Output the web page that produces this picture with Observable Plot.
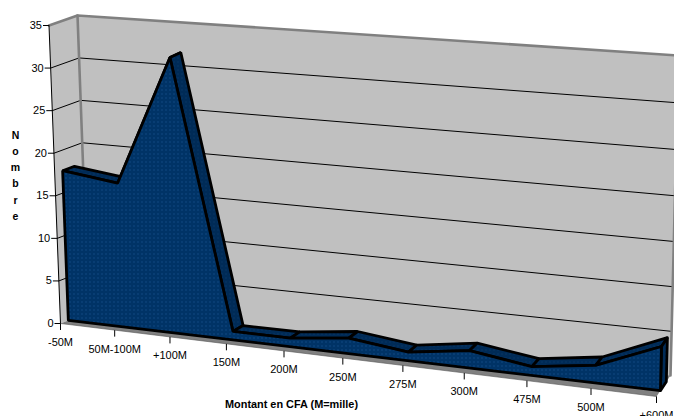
<!DOCTYPE html>
<html><head><meta charset="utf-8">
<style>html,body{margin:0;padding:0;background:#fff;overflow:hidden}</style>
<script src="https://cdn.jsdelivr.net/npm/d3@7"></script>
<script src="https://cdn.jsdelivr.net/npm/@observablehq/plot@0.6"></script>
</head><body><div id="chart"></div>
<script>
const categories = ["-50M","50M-100M","+100M","150M","200M","250M","275M","300M","475M","500M","+600M"];
const counts = [17.6,16.8,32,1,1,1.8,1,2,1,2,5];
const yTicks = [0,5,10,15,20,25,30,35];
const yMax = 35;
const yTitleLetters = ["N","o","m","b","r","e"];
const xTitle = "Montant en CFA (M=mille)";

// 3D box: screen position of the box's corners, used to project (category, value, depth)
const box = {
  f0L:[60,323], f0R:[656,396], fTL:[48.5,25], fTR:[664,76],
  b0L:[88,312], b0R:[670,375], bTL:[77,15], bTR:[678,55]
};
const lerp=(a,b,t)=>[a[0]+(b[0]-a[0])*t,a[1]+(b[1]-a[1])*t];
const persp=-0.1, n=categories.length-1;
function project(i,v,d){
  const t=i/n, u=(1+persp)*t/(1+persp*t);
  let w=v/yMax; w=w-0.04*u*w*(1-w);
  const front=lerp(lerp(box.f0L,box.f0R,u),lerp(box.fTL,box.fTR,u),w);
  const back=lerp(lerp(box.b0L,box.b0R,u),lerp(box.bTL,box.bTR,u),w);
  const p=lerp(front,back,d);
  return {x:p[0],y:p[1]};
}
const dF=0.28,dB=0.70;
const poly=(id,pts)=>pts.map(p=>({...project(...p),id}));

const backWall=poly("b",[[0,0,1],[n,0,1],[n,yMax,1],[0,yMax,1]]);
const leftWall=poly("l",[[0,0,0],[0,0,1],[0,yMax,1],[0,yMax,0]]);
const floor=poly("f",[[0,0,0],[n,0,0],[n,0,1],[0,0,1]]);
const grid=yTicks.filter(v=>v>0&&v<yMax).flatMap(v=>poly("g"+v,[[0,v,0],[0,v,1],[n,v,1]]));
const topEdge=poly("t",[[0,yMax,0],[0,yMax,1],[n,yMax,1]]);
const backLeft=poly("e",[[0,yMax,1],[0,0,1]]);
const backRight=poly("er",[[n,yMax,1],[n,0,1]]);
const axisLeft=poly("a",[[0,yMax,0],[0,0,0]]);
const axisFloor=poly("a",[[0,0,0],[n,0,0]]);

const topFaces=counts.slice(0,-1).flatMap((v,i)=>poly("q"+i,[[i,v,dF],[i+1,counts[i+1],dF],[i+1,counts[i+1],dB],[i,v,dB]]));
const rightFace=poly("r",[[n,0,dF],[n,counts[n],dF],[n,counts[n],dB],[n,0,dB]]);
const frontFace=poly("front",[[0,0,dF],...counts.map((v,i)=>[i,v,dF]),[n,0,dF]]);

const xTickRows=categories.map((c,i)=>{const a=project(i,0,0);return {label:c,x:a.x,y1:a.y,y2:a.y+6.5,ty:a.y+19};});
const yTickRows=yTicks.map(v=>{const a=project(0,v,0);return {label:String(v),x1:a.x-6,x2:a.x,y:a.y};});

const patterns=()=>{
  const defs=d3.create("svg:defs");
  [["dotFront","#003366","#1f5c99"],["dotTop","#002b57","#123f70"]].forEach(([id,bg,dot])=>{
    const p=defs.append("pattern").attr("id",id).attr("patternUnits","userSpaceOnUse").attr("width",4).attr("height",4);
    p.append("rect").attr("width",4).attr("height",4).attr("fill",bg);
    p.append("rect").attr("x",1).attr("y",1).attr("width",1).attr("height",1).attr("fill",dot);
  });
  return defs.node();
};
const L=(data,o)=>Plot.line(data,{x:"x",y:"y",z:"id",...o});
const font="Liberation Sans, Arial, sans-serif";

const chart=Plot.plot({
  width:674,height:416,margin:0,
  style:{background:"#fff",fontFamily:font},
  x:{domain:[0,674],range:[0,674],axis:null},
  y:{domain:[0,416],range:[0,416],axis:null},
  marks:[
    patterns,
    L(backWall,{curve:"linear-closed",fill:"#C0C0C0",stroke:"none"}),
    L(leftWall,{curve:"linear-closed",fill:"#C0C0C0",stroke:"none"}),
    L(floor,{curve:"linear-closed",fill:"#808080",stroke:"none"}),
    L(grid,{stroke:"#000",strokeWidth:1}),
    L(topEdge,{stroke:"#808080",strokeWidth:2.6}),
    L(backLeft,{stroke:"#808080",strokeWidth:2.6}),
    L(backRight,{stroke:"#808080",strokeWidth:2.6}),
    L(axisLeft,{stroke:"#000",strokeWidth:1}),
    L(axisFloor,{stroke:"#555",strokeWidth:0.6}),
    L(topFaces,{curve:"linear-closed",fill:"url(#dotTop)",stroke:"#000",strokeWidth:2.8,strokeLinejoin:"miter"}),
    L(rightFace,{curve:"linear-closed",fill:"url(#dotTop)",stroke:"#000",strokeWidth:2.8}),
    L(frontFace,{curve:"linear-closed",fill:"url(#dotFront)",stroke:"#000",strokeWidth:2.8,strokeLinejoin:"miter"}),
    Plot.link(xTickRows,{x1:"x",x2:"x",y1:"y1",y2:"y2",stroke:"#000",strokeWidth:1}),
    Plot.link(yTickRows,{x1:"x1",x2:"x2",y1:"y",y2:"y",stroke:"#000",strokeWidth:1}),
    Plot.text(xTickRows,{x:"x",y:"ty",text:"label",fontSize:11,fill:"#000",textAnchor:"middle"}),
    Plot.text(yTickRows,{x:"x1",y:"y",dx:-1,text:"label",fontSize:11,fill:"#000",textAnchor:"end"}),
    Plot.text(yTitleLetters,{x:()=>15,y:(d,i)=>135+i*16.2,text:d=>d,fontSize:10.5,fontWeight:"bold",fill:"#000"}),
    Plot.text([xTitle],{x:()=>291,y:()=>404,text:d=>d,fontSize:10.9,fontWeight:"bold",fill:"#000"})
  ]
});
document.getElementById("chart").append(chart);
</script></body></html>
